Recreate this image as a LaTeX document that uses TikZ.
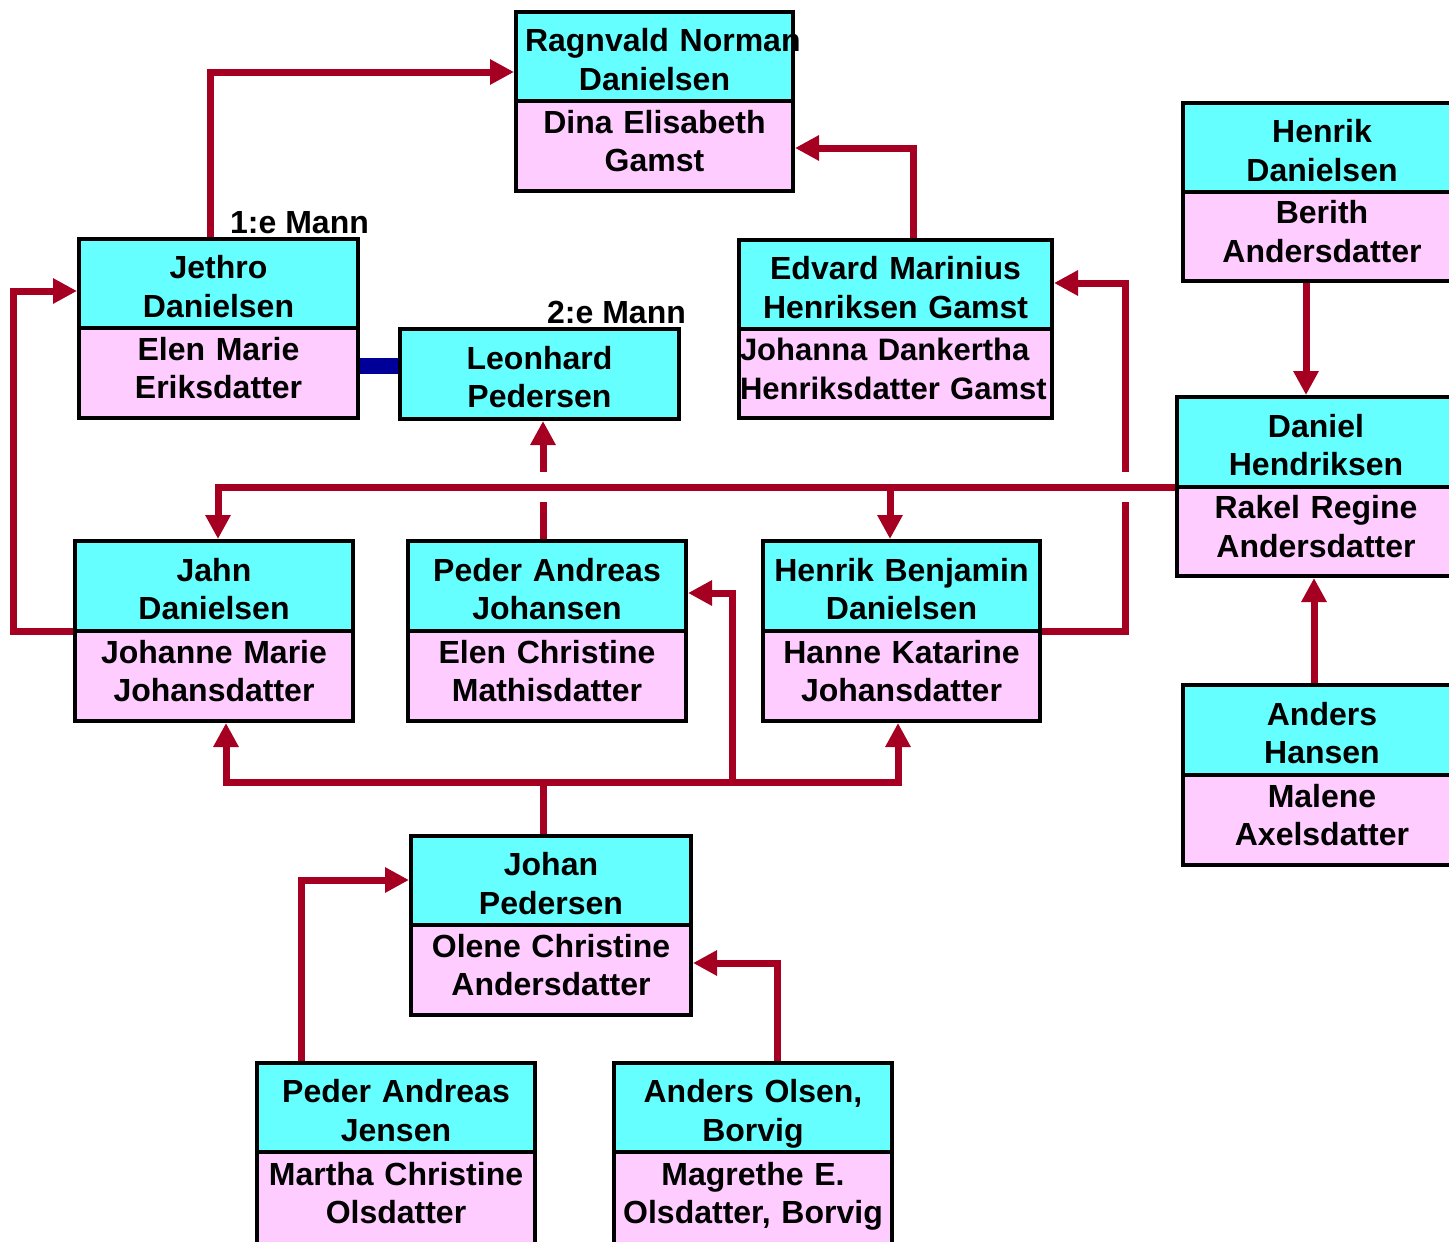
\documentclass[tikz,border=0pt]{standalone}
\usepackage{fontspec}
\setmainfont{Liberation Sans}
\usetikzlibrary{arrows.meta,backgrounds}
\definecolor{cyanfill}{HTML}{66FFFF}
\definecolor{pinkfill}{HTML}{FFCCFF}
\definecolor{linkred}{HTML}{A50021}
\definecolor{barblue}{HTML}{000099}
\tikzset{
  every node/.style={font=\fontsize{32}{38.5}\selectfont\bfseries},
  cyanbox/.style n args={3}{draw=black, line width=4pt, fill=cyanfill, rectangle, anchor=north west,
    minimum width=#1pt, text width=#2pt, minimum height=#3pt, align=center,
    inner xsep=4pt, inner ysep=1pt, outer sep=0pt,
    execute at begin node={\rule{0pt}{36pt}}, execute at end node={\rule[-7pt]{0pt}{7pt}}},
  pinkbox/.style n args={3}{draw=black, line width=4pt, fill=pinkfill, rectangle, anchor=north west,
    minimum width=#1pt, text width=#2pt, minimum height=#3pt, align=center,
    inner xsep=4pt, inner ysep=1pt, outer sep=0pt,
    execute at begin node={\rule{0pt}{25pt}}, execute at end node={\rule[-12pt]{0pt}{12pt}}},
  link/.style={draw=linkred, line width=7pt, line join=miter},
  arr/.style={-{Triangle[length=24pt,width=24pt]}, shorten >=2pt},
  bluebar/.style={draw=barblue, line width=16pt},
  mannlabel/.style={anchor=base west, inner sep=0pt}
}
\begin{document}
\begin{tikzpicture}[x=1pt,y=-1pt]
\useasboundingbox (0,0) rectangle (1449,1242);
\clip (0,0) rectangle (1449,1242);

% persons
\node[cyanbox={277}{259}{89}, inner xsep=9pt] (ragnvald) at (516,12) {\mbox{Ragnvald Norman}\\Danielsen};
\node[pinkbox={277}{269}{90}] (ragnvaldW) at (ragnvald.south west) {Dina Elisabeth\\Gamst};

\node[cyanbox={278}{270}{89}] (henrik) at (1183,103) {Henrik\\Danielsen};
\node[pinkbox={278}{270}{89}] (henrikW) at (henrik.south west) {Berith\\Andersdatter};

\node[cyanbox={279}{271}{89}] (jethro) at (79,239) {Jethro\\Danielsen};
\node[pinkbox={279}{271}{90}] (jethroW) at (jethro.south west) {Elen Marie\\Eriksdatter};

\node[cyanbox={279}{271}{90}] (leonhard) at (400,329) {Leonhard\\Pedersen};

\node[cyanbox={313}{305}{89}] (edvard) at (739,240) {Edvard Marinius\\Henriksen Gamst};
\node[pinkbox={313}{311}{89}, inner xsep=1pt, align=left, font=\fontsize{31}{38.5}\selectfont\bfseries] (edvardW) at (edvard.south west) {Johanna Dankertha\\\mbox{Henriksdatter Gamst}};

\node[cyanbox={278}{270}{90}] (daniel) at (1177,397) {Daniel\\Hendriksen};
\node[pinkbox={278}{270}{89}] (danielW) at (daniel.south west) {Rakel Regine\\Andersdatter};

\node[cyanbox={278}{270}{90}] (jahn) at (75,541) {Jahn\\Danielsen};
\node[pinkbox={278}{270}{90}] (jahnW) at (jahn.south west) {Johanne Marie\\Johansdatter};

\node[cyanbox={278}{270}{90}] (paj) at (408,541) {Peder Andreas\\Johansen};
\node[pinkbox={278}{270}{90}] (pajW) at (paj.south west) {Elen Christine\\Mathisdatter};

\node[cyanbox={277}{269}{90}] (henrikB) at (763,541) {Henrik Benjamin\\Danielsen};
\node[pinkbox={277}{269}{90}] (henrikBW) at (henrikB.south west) {Hanne Katarine\\Johansdatter};

\node[cyanbox={278}{270}{90}] (andersH) at (1183,685) {Anders\\Hansen};
\node[pinkbox={278}{270}{90}] (andersHW) at (andersH.south west) {Malene\\Axelsdatter};

\node[cyanbox={280}{272}{89}] (johan) at (411,836) {Johan\\Pedersen};
\node[pinkbox={280}{272}{90}] (johanW) at (johan.south west) {Olene Christine\\Andersdatter};

\node[cyanbox={278}{270}{89}] (pajensen) at (257,1063) {Peder Andreas\\Jensen};
\node[pinkbox={278}{270}{92}] (pajensenW) at (pajensen.south west) {Martha Christine\\Olsdatter};

\node[cyanbox={278}{270}{89}] (andersO) at (614,1063) {Anders Olsen,\\Borvig};
\node[pinkbox={278}{270}{92}] (andersOW) at (andersO.south west) {Magrethe E.\\Olsdatter, Borvig};

% labels
\node[mannlabel] (mann1) at (230,233) {1:e Mann};
\node[mannlabel] (mann2) at (547,323) {2:e Mann};

% connectors
\coordinate (branchA) at (890,487);
\coordinate (hopLow) at (1125,502);
\coordinate (hopHigh) at (1125,472);
\coordinate (hop2Low) at (543,502);
\coordinate (hop2High) at (543,472);
\coordinate (junction) at (543,782);
\coordinate (junction2) at (732,782);

\begin{scope}[on background layer]
\draw[link,arr] (210,0 |- jethro.north) |- (ragnvald.west |- 0,72);
\draw[link,arr] (913,0 |- edvard.north) |- (ragnvaldW.east |- 0,148);
\draw[link,arr] (1306,0 |- henrikW.south) -- (1306,0 |- daniel.north);
\draw[link,arr] (1314,0 |- andersH.north) -- (1314,0 |- danielW.south);
\draw[link,arr] (danielW.north west) -| (218,0 |- jahn.north);
\draw[link,arr] (branchA) -- (branchA |- henrikB.north);
\draw[link] (henrikBW.north east) -| (hopLow);
\draw[link,arr] (hopHigh) |- (edvard.east |- 0,283);
\draw[link,arr] (jahnW.north west) -| (13,291) -- (jethro.west |- 0,291);
\draw[link] (hop2Low |- paj.north) -- (hop2Low);
\draw[link,arr] (hop2High) -- (hop2High |- leonhard.south);
\draw[link] (junction |- johan.north) -- (junction);
\draw[link,arr] (junction) -| (226,0 |- jahnW.south);
\draw[link,arr] (junction) -| (898,0 |- henrikBW.south);
\draw[link,arr] (junction2) |- (paj.east |- 0,593);
\draw[link,arr] (301,0 |- pajensen.north) |- (johan.west |- 0,880);
\draw[link,arr] (777,0 |- andersO.north) |- (johanW.east |- 0,963);
\draw[bluebar] (jethroW.east |- 0,366) -- (leonhard.west |- 0,366);
\end{scope}
\end{tikzpicture}
\end{document}
